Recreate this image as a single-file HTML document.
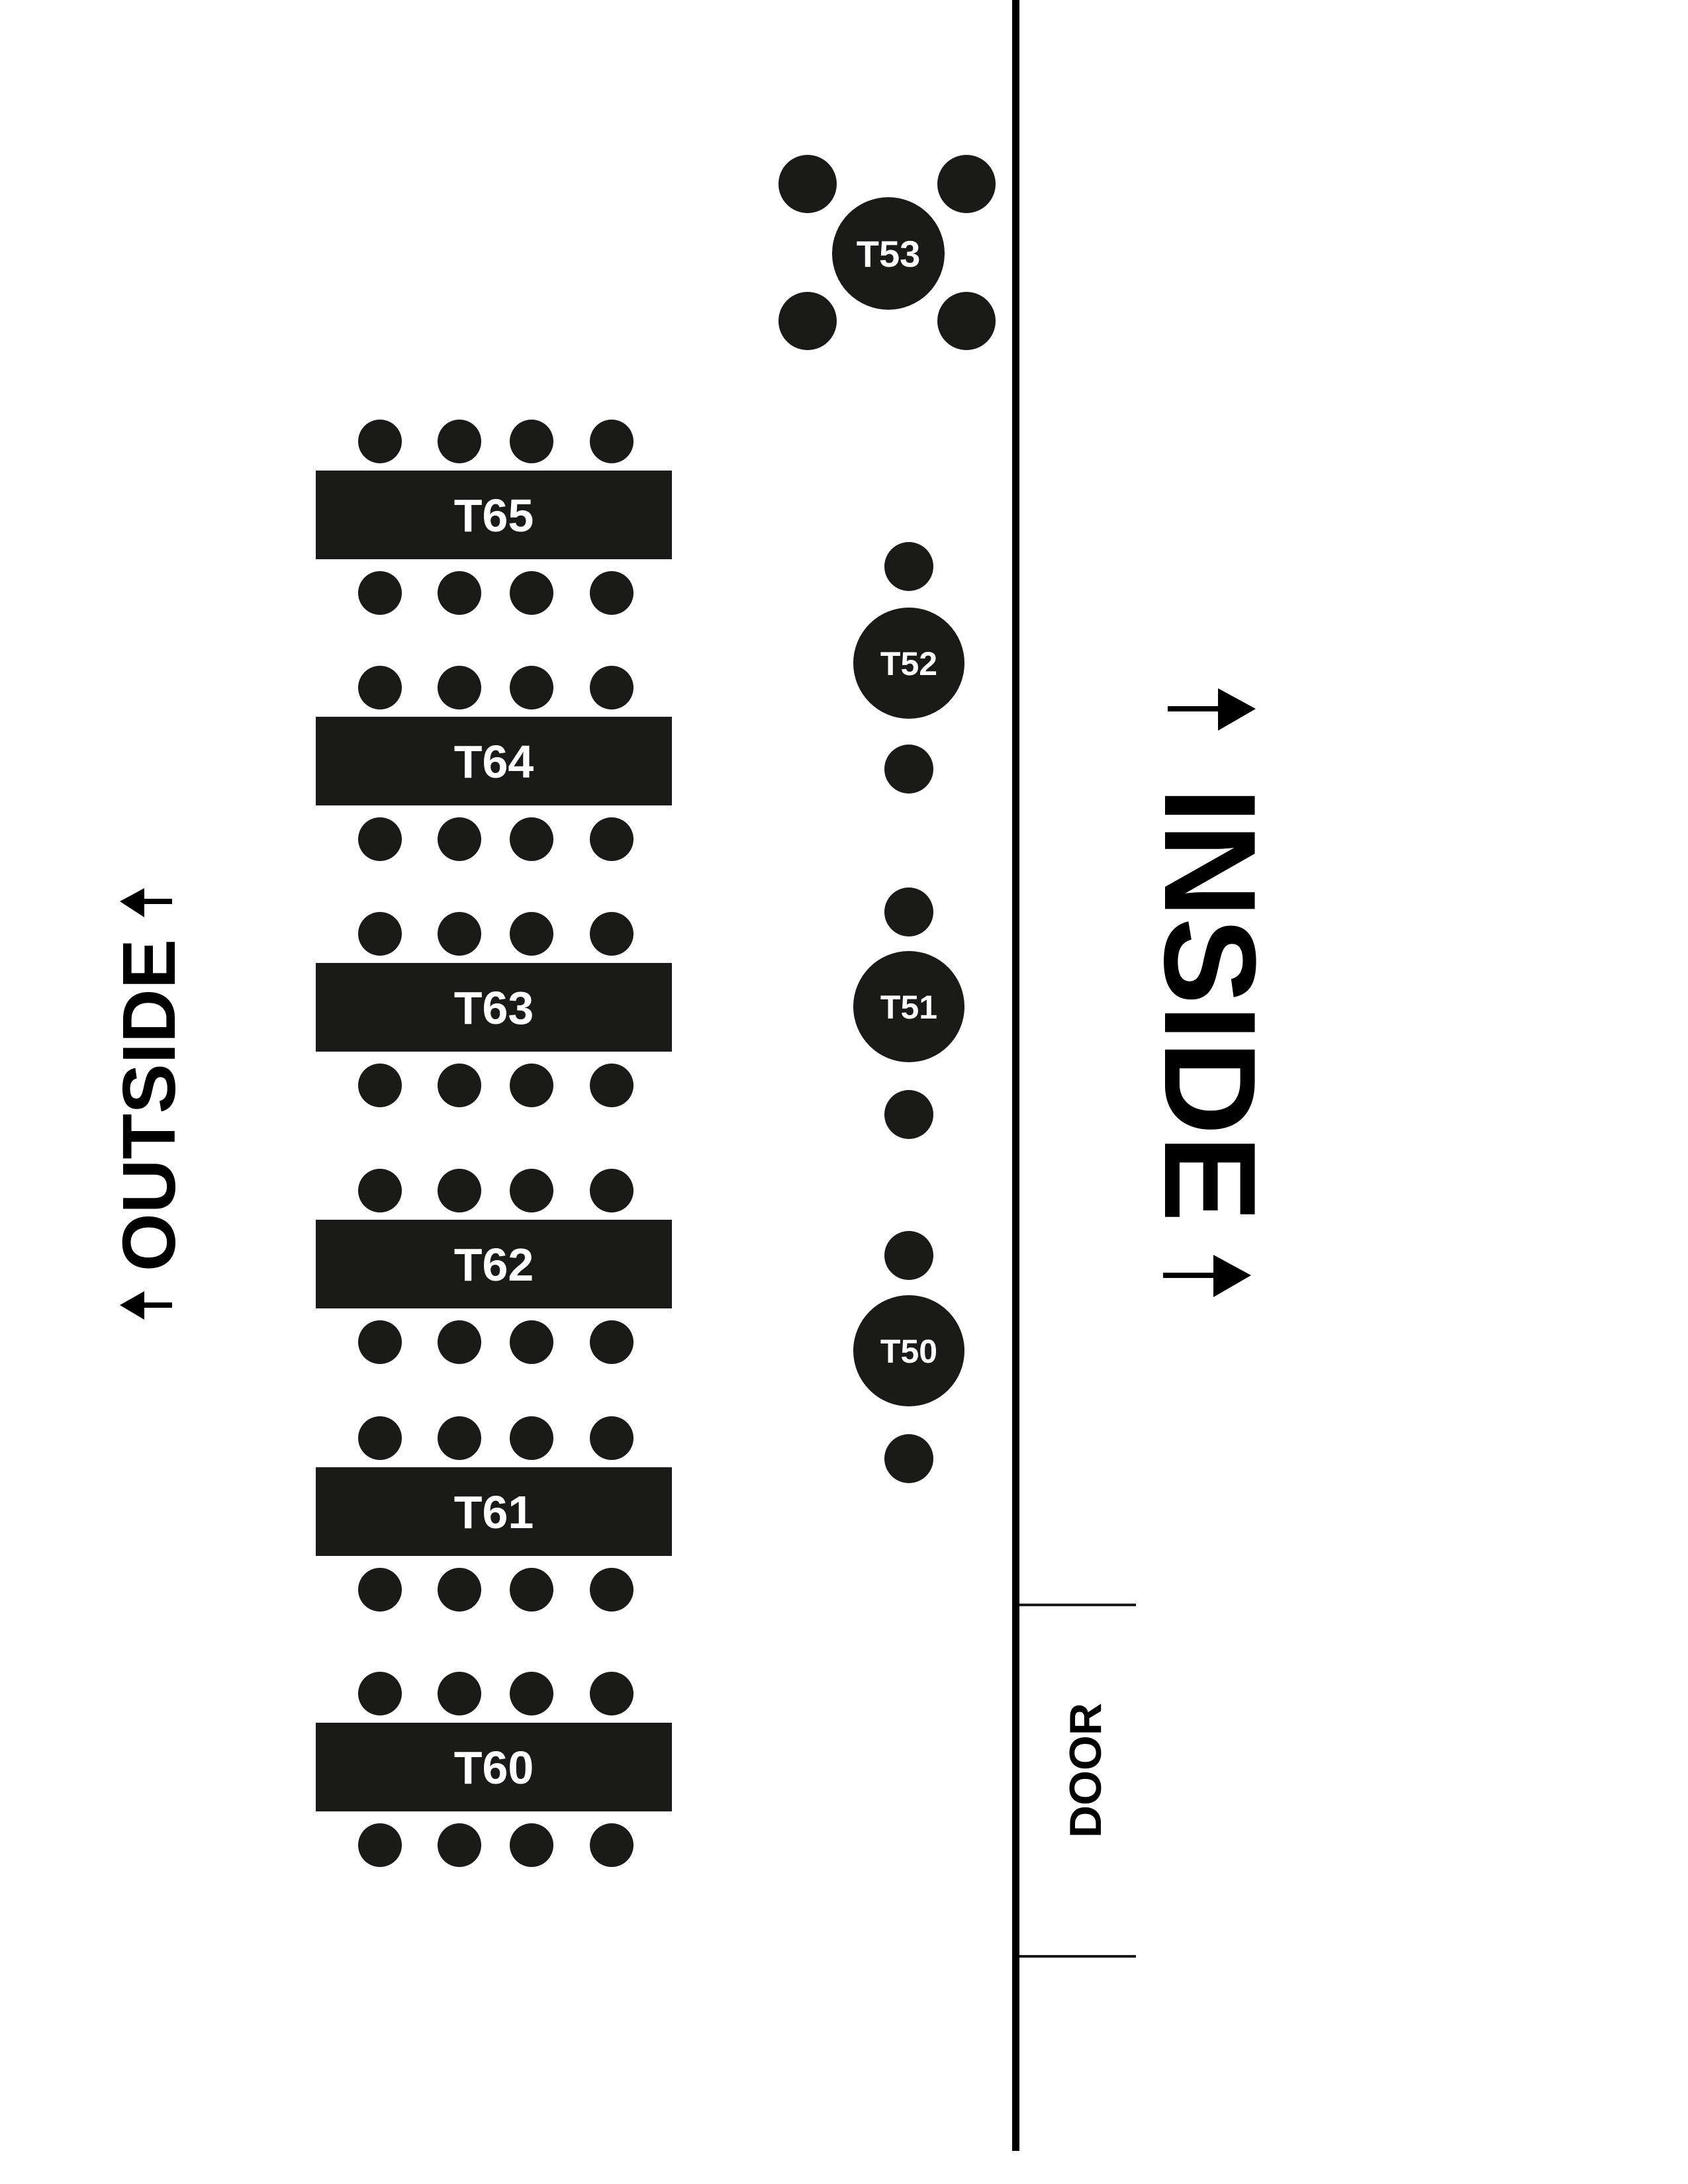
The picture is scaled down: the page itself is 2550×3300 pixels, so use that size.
<!DOCTYPE html>
<html><head><meta charset="utf-8"><style>
html,body{margin:0;padding:0;background:#fff;}
svg{display:block;}
text{font-family:"Liberation Sans",sans-serif;font-weight:bold;}
</style></head><body>
<svg width="2550" height="3300" viewBox="0 0 2550 3300" xmlns="http://www.w3.org/2000/svg">
<defs>
<g id="tbl">
<rect x="477" y="0" width="538" height="134" fill="#1a1a18"/>
<g fill="#1a1a18">
<circle cx="574" cy="-44" r="33"/><circle cx="694" cy="-44" r="33"/><circle cx="803" cy="-44" r="33"/><circle cx="924" cy="-44" r="33"/>
<circle cx="574" cy="185" r="33"/><circle cx="694" cy="185" r="33"/><circle cx="803" cy="185" r="33"/><circle cx="924" cy="185" r="33"/>
</g>
</g>
</defs>
<rect width="2550" height="3300" fill="#fff"/>
<!-- wall -->
<rect x="1529" y="0" width="11" height="3250" fill="#000"/>
<rect x="1540" y="2423" width="176" height="4" fill="#1a1a18"/>
<rect x="1540" y="2954" width="176" height="4" fill="#1a1a18"/>
<text x="0" y="0" font-size="68" fill="#000" text-anchor="middle" transform="translate(1663,2675) rotate(-90)">DOOR</text>

<g fill="#1a1a18">
<circle cx="1342" cy="383" r="85"/>
<circle cx="1220" cy="278" r="44"/><circle cx="1460" cy="278" r="44"/>
<circle cx="1220" cy="485" r="44"/><circle cx="1460" cy="485" r="44"/>
<circle cx="1373" cy="1002" r="84"/><circle cx="1373" cy="856" r="37"/><circle cx="1373" cy="1162" r="37"/>
<circle cx="1373" cy="1521" r="84"/><circle cx="1373" cy="1378" r="37"/><circle cx="1373" cy="1684" r="37"/>
<circle cx="1373" cy="2041" r="84"/><circle cx="1373" cy="1897" r="37"/><circle cx="1373" cy="2204" r="37"/>
</g>
<g fill="#fff" text-anchor="middle">
<text x="1342" y="403" font-size="56">T53</text>
<text x="1373" y="1020" font-size="50">T52</text>
<text x="1373" y="1539" font-size="50">T51</text>
<text x="1373" y="2059" font-size="50">T50</text>
</g>

<use href="#tbl" transform="translate(0,711)"/>
<use href="#tbl" transform="translate(0,1083)"/>
<use href="#tbl" transform="translate(0,1455)"/>
<use href="#tbl" transform="translate(0,1843)"/>
<use href="#tbl" transform="translate(0,2217)"/>
<use href="#tbl" transform="translate(0,2603)"/>
<g fill="#fff" text-anchor="middle" font-size="70">
<text x="746" y="803">T65</text>
<text x="746" y="1175">T64</text>
<text x="746" y="1547">T63</text>
<text x="746" y="1935">T62</text>
<text x="746" y="2309">T61</text>
<text x="746" y="2695">T60</text>
</g>

<text x="0" y="0" font-size="197" fill="#000" text-anchor="middle" transform="translate(1760,1518) rotate(90)">INSIDE</text>
<rect x="1764" y="1067" width="80" height="8" fill="#000"/>
<polygon points="1840,1040 1897,1071 1840,1104" fill="#000"/>
<rect x="1757" y="1923" width="80" height="8" fill="#000"/>
<polygon points="1833,1896 1890,1927 1833,1960" fill="#000"/>

<text x="0" y="0" font-size="113" fill="#000" text-anchor="middle" transform="translate(264,1670) rotate(-90)">OUTSIDE</text>
<rect x="214" y="1358" width="46" height="8" fill="#000"/>
<polygon points="181,1362 218,1342 218,1386" fill="#000"/>
<rect x="214" y="1968" width="46" height="8" fill="#000"/>
<polygon points="181,1972 218,1951 218,1994" fill="#000"/>
</svg>
</body></html>
